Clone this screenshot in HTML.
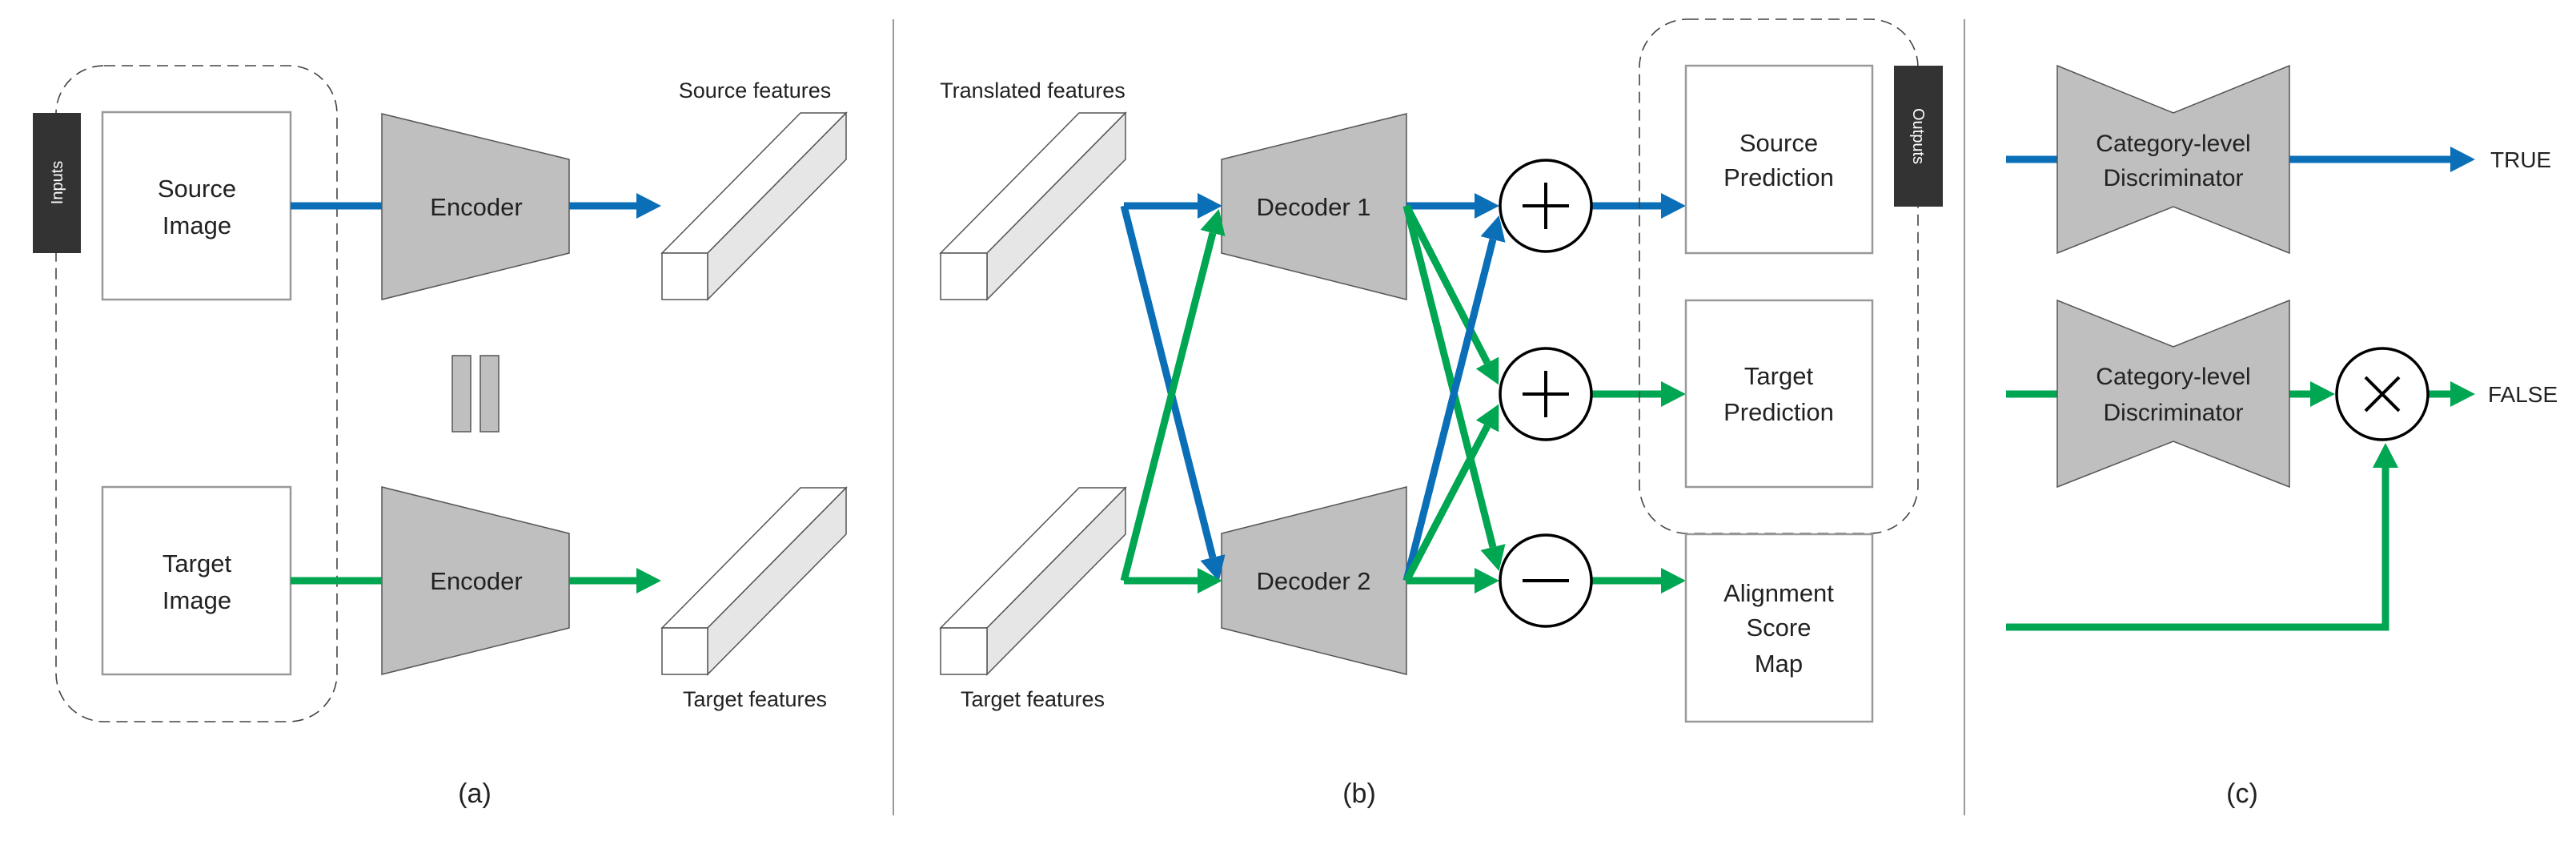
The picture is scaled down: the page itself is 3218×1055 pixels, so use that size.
<!DOCTYPE html>
<html><head><meta charset="utf-8"><style>
html,body{margin:0;padding:0;background:#fff;}
svg{display:block;}
text{font-family:"Liberation Sans",sans-serif;fill:#222;}
</style></head><body>
<svg width="3218" height="1055" viewBox="0 0 3218 1055" xmlns="http://www.w3.org/2000/svg">
<defs>
<marker id="ab" markerUnits="userSpaceOnUse" markerWidth="32" markerHeight="34" refX="0" refY="17" orient="auto"><path d="M0,1 L31,17 L0,33 z" fill="#0b6fb8"/></marker>
<marker id="ag" markerUnits="userSpaceOnUse" markerWidth="32" markerHeight="34" refX="0" refY="17" orient="auto"><path d="M0,1 L31,17 L0,33 z" fill="#00a651"/></marker>
</defs>
<rect width="3218" height="1055" fill="#fff"/>

<!-- ===== Panel (a) ===== -->
<rect x="70" y="82" width="351" height="819" rx="60" fill="none" stroke="#444" stroke-width="1.6" stroke-dasharray="14,8"/>
<rect x="41" y="141" width="60" height="175" fill="#333"/>
<text x="0" y="0" transform="translate(78,228) rotate(-90)" text-anchor="middle" font-size="20" style="fill:#fff">Inputs</text>
<rect x="128" y="140" width="235" height="234" fill="#fff" stroke="#999" stroke-width="2.5"/>
<rect x="128" y="608" width="235" height="234" fill="#fff" stroke="#999" stroke-width="2.5"/>
<text x="246" y="246" text-anchor="middle" font-size="31">Source</text>
<text x="246" y="292" text-anchor="middle" font-size="31">Image</text>
<text x="246" y="714" text-anchor="middle" font-size="31">Target</text>
<text x="246" y="760" text-anchor="middle" font-size="31">Image</text>

<polygon points="477,142 711,199 711,316 477,374" fill="#bfbfbf" stroke="#555" stroke-width="1.5"/>
<polygon points="477,608 711,666 711,784 477,842" fill="#bfbfbf" stroke="#555" stroke-width="1.5"/>
<text x="595" y="269" text-anchor="middle" font-size="31">Encoder</text>
<text x="595" y="736" text-anchor="middle" font-size="31">Encoder</text>

<line x1="363" y1="257" x2="477" y2="257" stroke="#0b6fb8" stroke-width="9"/>
<line x1="711" y1="257" x2="795" y2="257" stroke="#0b6fb8" stroke-width="9" marker-end="url(#ab)"/>
<line x1="363" y1="725" x2="477" y2="725" stroke="#00a651" stroke-width="9"/>
<line x1="711" y1="725" x2="795" y2="725" stroke="#00a651" stroke-width="9" marker-end="url(#ag)"/>

<rect x="565" y="444" width="23" height="95" fill="#bfbfbf" stroke="#555" stroke-width="1.5"/>
<rect x="600" y="444" width="23" height="95" fill="#bfbfbf" stroke="#555" stroke-width="1.5"/>

<g stroke="#555" stroke-width="1.5">
<polygon points="827,316 884,316 1057,141 1000,141" fill="#fff"/>
<polygon points="884,316 1057,141 1057,199 884,374" fill="#e6e6e6"/>
<rect x="827" y="316" width="57" height="58" fill="#fff"/>
<polygon points="827,784 884,784 1057,609 1000,609" fill="#fff"/>
<polygon points="884,784 1057,609 1057,667 884,842" fill="#e6e6e6"/>
<rect x="827" y="784" width="57" height="58" fill="#fff"/>
</g>
<text x="943" y="122" text-anchor="middle" font-size="27">Source features</text>
<text x="943" y="882" text-anchor="middle" font-size="27">Target features</text>
<text x="593" y="1002" text-anchor="middle" font-size="34">(a)</text>

<line x1="1116" y1="24" x2="1116" y2="1018" stroke="#999" stroke-width="2"/>

<!-- ===== Panel (b) ===== -->
<g stroke="#555" stroke-width="1.5">
<polygon points="1175,316 1233,316 1406,141 1348,141" fill="#fff"/>
<polygon points="1233,316 1406,141 1406,199 1233,374" fill="#e6e6e6"/>
<rect x="1175" y="316" width="58" height="58" fill="#fff"/>
<polygon points="1175,784 1233,784 1406,609 1348,609" fill="#fff"/>
<polygon points="1233,784 1406,609 1406,667 1233,842" fill="#e6e6e6"/>
<rect x="1175" y="784" width="58" height="58" fill="#fff"/>
</g>
<text x="1290" y="122" text-anchor="middle" font-size="27">Translated features</text>
<text x="1290" y="882" text-anchor="middle" font-size="27">Target features</text>

<polygon points="1526,199 1757,142 1757,374 1526,316" fill="#bfbfbf" stroke="#555" stroke-width="1.5"/>
<polygon points="1526,666 1757,608 1757,842 1526,784" fill="#bfbfbf" stroke="#555" stroke-width="1.5"/>
<text x="1641" y="269" text-anchor="middle" font-size="31">Decoder 1</text>
<text x="1641" y="736" text-anchor="middle" font-size="31">Decoder 2</text>

<g fill="none" stroke-width="9">
<line x1="1404" y1="257" x2="1496" y2="257" stroke="#0b6fb8" marker-end="url(#ab)"/>
<line x1="1404" y1="257" x2="1515" y2="696" stroke="#0b6fb8" marker-end="url(#ab)"/>
<line x1="1404" y1="725" x2="1496" y2="725" stroke="#00a651" marker-end="url(#ag)"/>
<line x1="1404" y1="725" x2="1515" y2="291" stroke="#00a651" marker-end="url(#ag)"/>
<line x1="1757" y1="257" x2="1842" y2="257" stroke="#0b6fb8" marker-end="url(#ab)"/>
<line x1="1757" y1="257" x2="1858" y2="453" stroke="#00a651" marker-end="url(#ag)"/>
<line x1="1757" y1="257" x2="1865" y2="683" stroke="#00a651" marker-end="url(#ag)"/>
<line x1="1757" y1="725" x2="1865" y2="299" stroke="#0b6fb8" marker-end="url(#ab)"/>
<line x1="1757" y1="725" x2="1858" y2="532" stroke="#00a651" marker-end="url(#ag)"/>
<line x1="1757" y1="725" x2="1842" y2="725" stroke="#00a651" marker-end="url(#ag)"/>
<line x1="1989" y1="257" x2="2075" y2="257" stroke="#0b6fb8" marker-end="url(#ab)"/>
<line x1="1989" y1="492" x2="2075" y2="492" stroke="#00a651" marker-end="url(#ag)"/>
<line x1="1989" y1="725" x2="2075" y2="725" stroke="#00a651" marker-end="url(#ag)"/>
</g>

<g fill="#fff" stroke="#000" stroke-width="3.5">
<circle cx="1931" cy="257" r="57"/>
<circle cx="1931" cy="492" r="57"/>
<circle cx="1931" cy="725" r="57"/>
</g>
<g stroke="#000" stroke-width="4">
<line x1="1902" y1="257" x2="1960" y2="257"/><line x1="1931" y1="228" x2="1931" y2="286"/>
<line x1="1902" y1="492" x2="1960" y2="492"/><line x1="1931" y1="463" x2="1931" y2="521"/>
<line x1="1902" y1="725" x2="1960" y2="725"/>
</g>

<rect x="2048" y="24" width="348" height="642" rx="60" fill="none" stroke="#444" stroke-width="1.6" stroke-dasharray="14,8"/>
<rect x="2106" y="82" width="233" height="234" fill="#fff" stroke="#999" stroke-width="2.5"/>
<rect x="2106" y="375" width="233" height="233" fill="#fff" stroke="#999" stroke-width="2.5"/>
<rect x="2106" y="667" width="233" height="234" fill="#fff" stroke="#999" stroke-width="2.5"/>
<text x="2222" y="189" text-anchor="middle" font-size="31">Source</text>
<text x="2222" y="232" text-anchor="middle" font-size="31">Prediction</text>
<text x="2222" y="480" text-anchor="middle" font-size="31">Target</text>
<text x="2222" y="525" text-anchor="middle" font-size="31">Prediction</text>
<text x="2222" y="751" text-anchor="middle" font-size="31">Alignment</text>
<text x="2222" y="794" text-anchor="middle" font-size="31">Score</text>
<text x="2222" y="839" text-anchor="middle" font-size="31">Map</text>
<rect x="2366" y="82" width="61" height="176" fill="#333"/>
<text x="0" y="0" transform="translate(2390,170) rotate(90)" text-anchor="middle" font-size="20" style="fill:#fff">Outputs</text>
<text x="1698" y="1002" text-anchor="middle" font-size="34">(b)</text>

<line x1="2454" y1="24" x2="2454" y2="1018" stroke="#999" stroke-width="2"/>

<!-- ===== Panel (c) ===== -->
<g fill="none" stroke-width="9">
<line x1="2506" y1="199" x2="2574" y2="199" stroke="#0b6fb8"/>
<line x1="2857" y1="199" x2="3061" y2="199" stroke="#0b6fb8" marker-end="url(#ab)"/>
<line x1="2506" y1="492" x2="2574" y2="492" stroke="#00a651"/>
<line x1="2857" y1="492" x2="2886" y2="492" stroke="#00a651" marker-end="url(#ag)"/>
<line x1="3033" y1="492" x2="3061" y2="492" stroke="#00a651" marker-end="url(#ag)"/>
<polyline points="2506,783 2980,783 2980,584" stroke="#00a651" marker-end="url(#ag)"/>
</g>
<polygon points="2570,82 2715,141 2860,82 2860,316 2715,258 2570,316" fill="#bfbfbf" stroke="#555" stroke-width="1.5"/>
<polygon points="2570,375 2715,433 2860,375 2860,608 2715,551 2570,608" fill="#bfbfbf" stroke="#555" stroke-width="1.5"/>
<text x="2715" y="189" text-anchor="middle" font-size="30">Category-level</text>
<text x="2715" y="232" text-anchor="middle" font-size="30">Discriminator</text>
<text x="2715" y="480" text-anchor="middle" font-size="30">Category-level</text>
<text x="2715" y="525" text-anchor="middle" font-size="30">Discriminator</text>
<circle cx="2976" cy="492" r="57" fill="#fff" stroke="#000" stroke-width="3.5"/>
<g stroke="#000" stroke-width="4">
<line x1="2955" y1="471" x2="2997" y2="513"/><line x1="2997" y1="471" x2="2955" y2="513"/>
</g>
<text x="3111" y="209" font-size="28">TRUE</text>
<text x="3108" y="502" font-size="28">FALSE</text>
<text x="2801" y="1002" text-anchor="middle" font-size="34">(c)</text>
</svg>
</body></html>
